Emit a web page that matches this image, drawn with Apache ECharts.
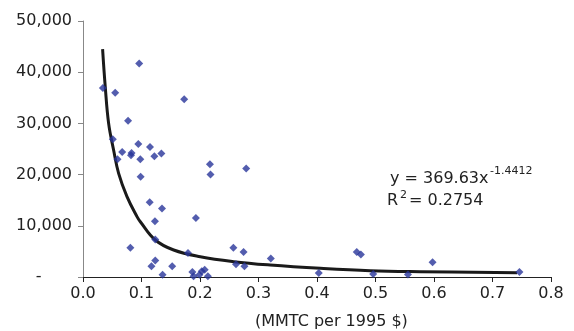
<!DOCTYPE html>
<html>
<head>
<meta charset="utf-8">
<script src="https://cdn.jsdelivr.net/npm/echarts@6/dist/echarts.min.js"></script>
<style>
  html, body { margin: 0; padding: 0; background: #fff; }
  #chart { width: 574px; height: 331px; }
</style>
</head>
<body>
<div id="chart"></div>
<script>
// intensity (MMTC per 1995 $) vs value
const xValues = [0.034, 0.096, 0.055, 0.173, 0.077, 0.051, 0.0945, 0.1145, 0.059, 0.067,
  0.082, 0.083, 0.098, 0.122, 0.134, 0.0985, 0.217, 0.218, 0.114, 0.135,
  0.123, 0.193, 0.081, 0.1235, 0.1795, 0.257, 0.2615, 0.1235, 0.117, 0.1525,
  0.136, 0.187, 0.189, 0.199, 0.203, 0.208, 0.2135, 0.279, 0.2745, 0.276,
  0.321, 0.403, 0.468, 0.475, 0.496, 0.5555, 0.5975, 0.746];
const yValues = [36900, 41700, 36000, 34700, 30500, 26900, 26000, 25400, 23000, 24400,
  23800, 24200, 23000, 23600, 24100, 19600, 22000, 20000, 14600, 13400,
  10900, 11500, 5700, 7300, 4700, 5700, 2500, 3200, 2100, 2100,
  450, 1000, 150, 450, 1100, 1400, 150, 21200, 4900, 2100,
  3600, 800, 4900, 4400, 600, 500, 2900, 1000];

// power trend line (y = 369.63x^-1.4412)
const trendX = [0.0335, 0.038, 0.0438, 0.0523, 0.0609, 0.0752, 0.0923, 0.098, 0.1236,
  0.155, 0.2005, 0.2575, 0.32, 0.4056, 0.491, 0.5766, 0.742];
const trendY = [44500, 37200, 30000, 24800, 20250, 15700, 11800, 10800, 7230,
  5270, 3960, 3000, 2340, 1700, 1230, 1040, 840];

const xTicks = ['0.0', '0.1', '0.2', '0.3', '0.4', '0.5', '0.6', '0.7', '0.8'];

const points = xValues.map((x, i) => [x, yValues[i]]);
const trend = trendX.map((x, i) => [x, trendY[i]]);

const font = '"DejaVu Sans", sans-serif';
const chart = echarts.init(document.getElementById('chart'));
chart.setOption({
  animation: false,
  textStyle: { fontFamily: font },
  grid: { left: 83, right: 23, top: 21, bottom: 54 },
  xAxis: {
    type: 'value', min: 0, max: 0.8, interval: 0.1,
    splitLine: { show: false },
    axisLine: { lineStyle: { color: '#222', width: 1 } },
    axisTick: { length: 5, lineStyle: { color: '#222' } },
    axisLabel: {
      color: '#222', fontSize: 16, margin: 9,
      formatter: v => xTicks[Math.round(v * 10)]
    }
  },
  yAxis: {
    type: 'value', min: 0, max: 50000, interval: 10000,
    splitLine: { show: false },
    axisLine: { show: true, lineStyle: { color: '#888', width: 1 } },
    axisTick: { show: true, length: 5, lineStyle: { color: '#888' } },
    axisLabel: {
      color: '#222', fontSize: 16, margin: 11,
      formatter: v => v === 0 ? '-      ' : v.toLocaleString('en-US')
    }
  },
  series: [
    {
      type: 'scatter', data: points, symbol: 'diamond', symbolSize: 8,
      itemStyle: { color: '#28349a' }, z: 3
    },
    {
      type: 'line', data: trend, showSymbol: false, smooth: 0.4,
      lineStyle: { color: '#1a1a1a', width: 3 }, z: 2
    }
  ],
  graphic: [
    { type: 'text', left: 255, top: 314, style: { text: '(MMTC per 1995 $)', font: '16px ' + font, fill: '#222' } },
    { type: 'text', left: 390, top: 171, style: { text: 'y = 369.63x', font: '16px ' + font, fill: '#222' } },
    { type: 'text', left: 490, top: 166, style: { text: '-1.4412', font: '11px ' + font, fill: '#222' } },
    { type: 'text', left: 387, top: 193, style: { text: 'R', font: '16px ' + font, fill: '#222' } },
    { type: 'text', left: 400, top: 190, style: { text: '2', font: '11px ' + font, fill: '#222' } },
    { type: 'text', left: 409, top: 193, style: { text: '= 0.2754', font: '16px ' + font, fill: '#222' } }
  ]
});
</script>
</body>
</html>
